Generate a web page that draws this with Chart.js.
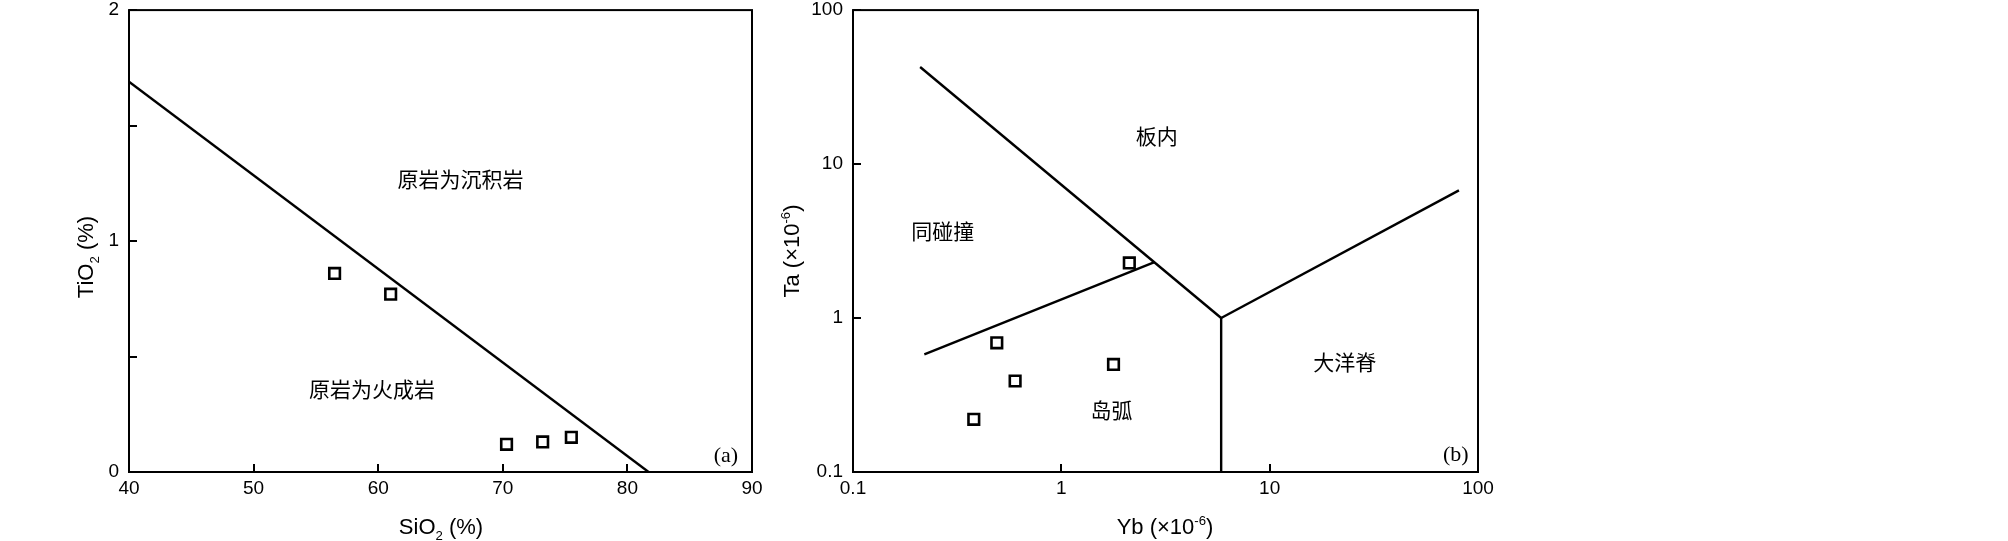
<!DOCTYPE html>
<html>
<head>
<meta charset="utf-8">
<script src="https://cdn.jsdelivr.net/npm/chart.js@4.4.1/dist/chart.umd.min.js"></script>
<style>
  html, body { margin: 0; padding: 0; background: #fff; }
  body { width: 2008px; height: 541px; position: relative; overflow: hidden; }
  .box { position: absolute; top: 0; height: 541px; }
  #boxA { left: 0; width: 790px; }
  #boxB { left: 770px; width: 760px; }
</style>
</head>
<body>
<div class="box" id="boxA"><canvas id="chartA"></canvas></div>
<div class="box" id="boxB"><canvas id="chartB"></canvas></div>
<script>
// (a) SiO2 - TiO2
const sio2 = [56.5, 61.0, 70.3, 73.2, 75.5];
const tio2 = [0.86, 0.77, 0.12, 0.13, 0.15];
const lineAx = [40, 81.7];
const lineAy = [1.69, 0];
const xTicksA = [40, 50, 60, 70, 80, 90];
const yTicksA = [0, 0.5, 1, 1.5, 2];
const regionA = ['原岩为沉积岩', '原岩为火成岩'];
const regionAx = [66.6, 59.5];
const regionAy = [1.27, 0.36];

// (b) Yb - Ta
const yb = [2.12, 0.49, 0.60, 1.78, 0.38];
const ta = [2.28, 0.69, 0.39, 0.50, 0.22];
const wpgX = [0.21, 5.85], wpgY = [42.7, 1.0];
const colX = [0.22, 2.8], colY = [0.58, 2.31];
const vagX = [5.85, 5.85], vagY = [1.0, 0.1];
const orgX = [5.85, 81], orgY = [1.0, 6.75];
const logTicks = [0.1, 1, 10, 100];
const regionB = ['板内', '同碰撞', '大洋脊', '岛弧'];
const regionBx = [2.87, 0.27, 22.9, 1.74];
const regionBy = [15.3, 3.65, 0.515, 0.254];

const tickFont = { family: '"Liberation Sans", Arial, sans-serif', size: 19 };
const SANS = '"Liberation Sans", Arial, sans-serif';

function pts(xs, ys) {
  return xs.map((x, i) => ({ x: x, y: ys[i] }));
}

function lineSet(xs, ys) {
  return {
    data: pts(xs, ys), showLine: true, pointRadius: 0,
    borderColor: '#000', borderWidth: 2.4, fill: false
  };
}

function pointSet(xs, ys) {
  return {
    data: pts(xs, ys), showLine: false, pointStyle: 'rect',
    pointRadius: 7.5, pointBorderWidth: 2.6,
    pointBackgroundColor: '#fff', pointBorderColor: '#000'
  };
}

// text with sub / superscripts: parts = [[text, -1|0|1], ...]
function drawRich(ctx, parts, size, cx, baseY) {
  let w = 0;
  parts.forEach(p => {
    ctx.font = (p[1] ? size * 0.6 : size) + 'px ' + SANS;
    w += ctx.measureText(p[0]).width;
  });
  let x = cx - w / 2;
  ctx.textAlign = 'left';
  ctx.textBaseline = 'alphabetic';
  parts.forEach(p => {
    const s = p[1] ? size * 0.6 : size;
    ctx.font = s + 'px ' + SANS;
    let dy = 0;
    if (p[1] < 0) dy = size * 0.28;
    if (p[1] > 0) dy = -size * 0.42;
    ctx.fillText(p[0], x, baseY + dy);
    x += ctx.measureText(p[0]).width;
  });
}

const framePlugin = {
  id: 'frame',
  afterDraw(chart, args, opts) {
    const ctx = chart.ctx;
    const a = chart.chartArea;
    const xs = chart.scales.x, ys = chart.scales.y;
    ctx.save();
    ctx.strokeStyle = '#000';
    ctx.lineWidth = 2;
    ctx.strokeRect(a.left, a.top, a.right - a.left, a.bottom - a.top);
    // inward ticks on bottom and left
    ctx.beginPath();
    xs.ticks.forEach(t => {
      const px = Math.round(xs.getPixelForValue(t.value));
      ctx.moveTo(px, a.bottom);
      ctx.lineTo(px, a.bottom - 8);
    });
    ys.ticks.forEach(t => {
      const py = Math.round(ys.getPixelForValue(t.value));
      ctx.moveTo(a.left, py);
      ctx.lineTo(a.left + 8, py);
    });
    ctx.stroke();

    ctx.fillStyle = '#000';
    // axis titles
    drawRich(ctx, opts.xTitle, 22, opts.xTitleX, 534);
    ctx.translate(opts.yTitleX, opts.yTitleY);
    ctx.rotate(-Math.PI / 2);
    drawRich(ctx, opts.yTitle, 22, 0, 22 * 0.36);
    ctx.setTransform(1, 0, 0, 1, 0, 0);

    // region labels
    ctx.font = '21px "Noto Sans CJK SC", sans-serif';
    ctx.textAlign = 'center';
    ctx.textBaseline = 'middle';
    opts.labels.forEach((txt, i) => {
      ctx.fillText(txt, xs.getPixelForValue(opts.lx[i]), ys.getPixelForValue(opts.ly[i]));
    });
    ctx.font = '22px "Liberation Serif", "Times New Roman", serif';
    ctx.fillText(opts.tag, xs.getPixelForValue(opts.tagX), ys.getPixelForValue(opts.tagY));
    ctx.restore();
  }
};

function fixScale(size, horizontal) {
  return function (s) {
    if (horizontal) s.height = size; else s.width = size;
    s.paddingTop = 0; s.paddingBottom = 0;
    s.paddingLeft = 0; s.paddingRight = 0;
  };
}

// chart (a)
new Chart(document.getElementById('chartA'), {
  type: 'scatter',
  data: {
    datasets: [lineSet(lineAx, lineAy), pointSet(sio2, tio2)]
  },
  options: {
    responsive: true, maintainAspectRatio: false, animation: false,
    layout: { padding: { left: 0, top: 9, right: 38, bottom: 0 } },
    plugins: {
      legend: { display: false }, tooltip: { enabled: false },
      frame: {
        xTitle: [['SiO', 0], ['2', -1], [' (%)', 0]], xTitleX: 441,
        yTitle: [['TiO', 0], ['2', -1], [' (%)', 0]], yTitleX: 85, yTitleY: 257,
        labels: regionA, lx: regionAx, ly: regionAy,
        tag: '(a)', tagX: 87.9, tagY: 0.069
      }
    },
    scales: {
      x: {
        type: 'linear', min: 40, max: 90,
        afterBuildTicks: s => { s.ticks = xTicksA.map(v => ({ value: v })); },
        afterFit: fixScale(69, true),
        grid: { display: false, drawTicks: false }, border: { display: false },
        ticks: { font: tickFont, color: '#000', padding: 5, maxRotation: 0 }
      },
      y: {
        type: 'linear', min: 0, max: 2,
        afterBuildTicks: s => { s.ticks = yTicksA.map(v => ({ value: v })); },
        afterFit: fixScale(129, false),
        grid: { display: false, drawTicks: false }, border: { display: false },
        ticks: {
          font: tickFont, color: '#000', padding: 10,
          callback: v => (v % 1 === 0 ? String(v) : '')
        }
      }
    }
  },
  plugins: [framePlugin]
});

// chart (b)
new Chart(document.getElementById('chartB'), {
  type: 'scatter',
  data: {
    datasets: [
      lineSet(wpgX, wpgY), lineSet(colX, colY),
      lineSet(vagX, vagY), lineSet(orgX, orgY),
      pointSet(yb, ta)
    ]
  },
  options: {
    responsive: true, maintainAspectRatio: false, animation: false,
    layout: { padding: { left: 0, top: 8, right: 52, bottom: 0 } },
    plugins: {
      legend: { display: false }, tooltip: { enabled: false },
      frame: {
        xTitle: [['Yb (×10', 0], ['-6', 1], [')', 0]], xTitleX: 395,
        yTitle: [['Ta (×10', 0], ['-6', 1], [')', 0]], yTitleX: 21, yTitleY: 251,
        labels: regionB, lx: regionBx, ly: regionBy,
        tag: '(b)', tagX: 78.3, tagY: 0.128
      }
    },
    scales: {
      x: {
        type: 'logarithmic', min: 0.1, max: 100,
        afterBuildTicks: s => { s.ticks = logTicks.map(v => ({ value: v })); },
        afterFit: fixScale(69, true),
        grid: { display: false, drawTicks: false }, border: { display: false },
        ticks: { font: tickFont, color: '#000', padding: 5, maxRotation: 0, callback: v => String(v) }
      },
      y: {
        type: 'logarithmic', min: 0.1, max: 100,
        afterBuildTicks: s => { s.ticks = logTicks.map(v => ({ value: v })); },
        afterFit: fixScale(83, false),
        grid: { display: false, drawTicks: false }, border: { display: false },
        ticks: { font: tickFont, color: '#000', padding: 10, callback: v => String(v) }
      }
    }
  },
  plugins: [framePlugin]
});
</script>
</body>
</html>
